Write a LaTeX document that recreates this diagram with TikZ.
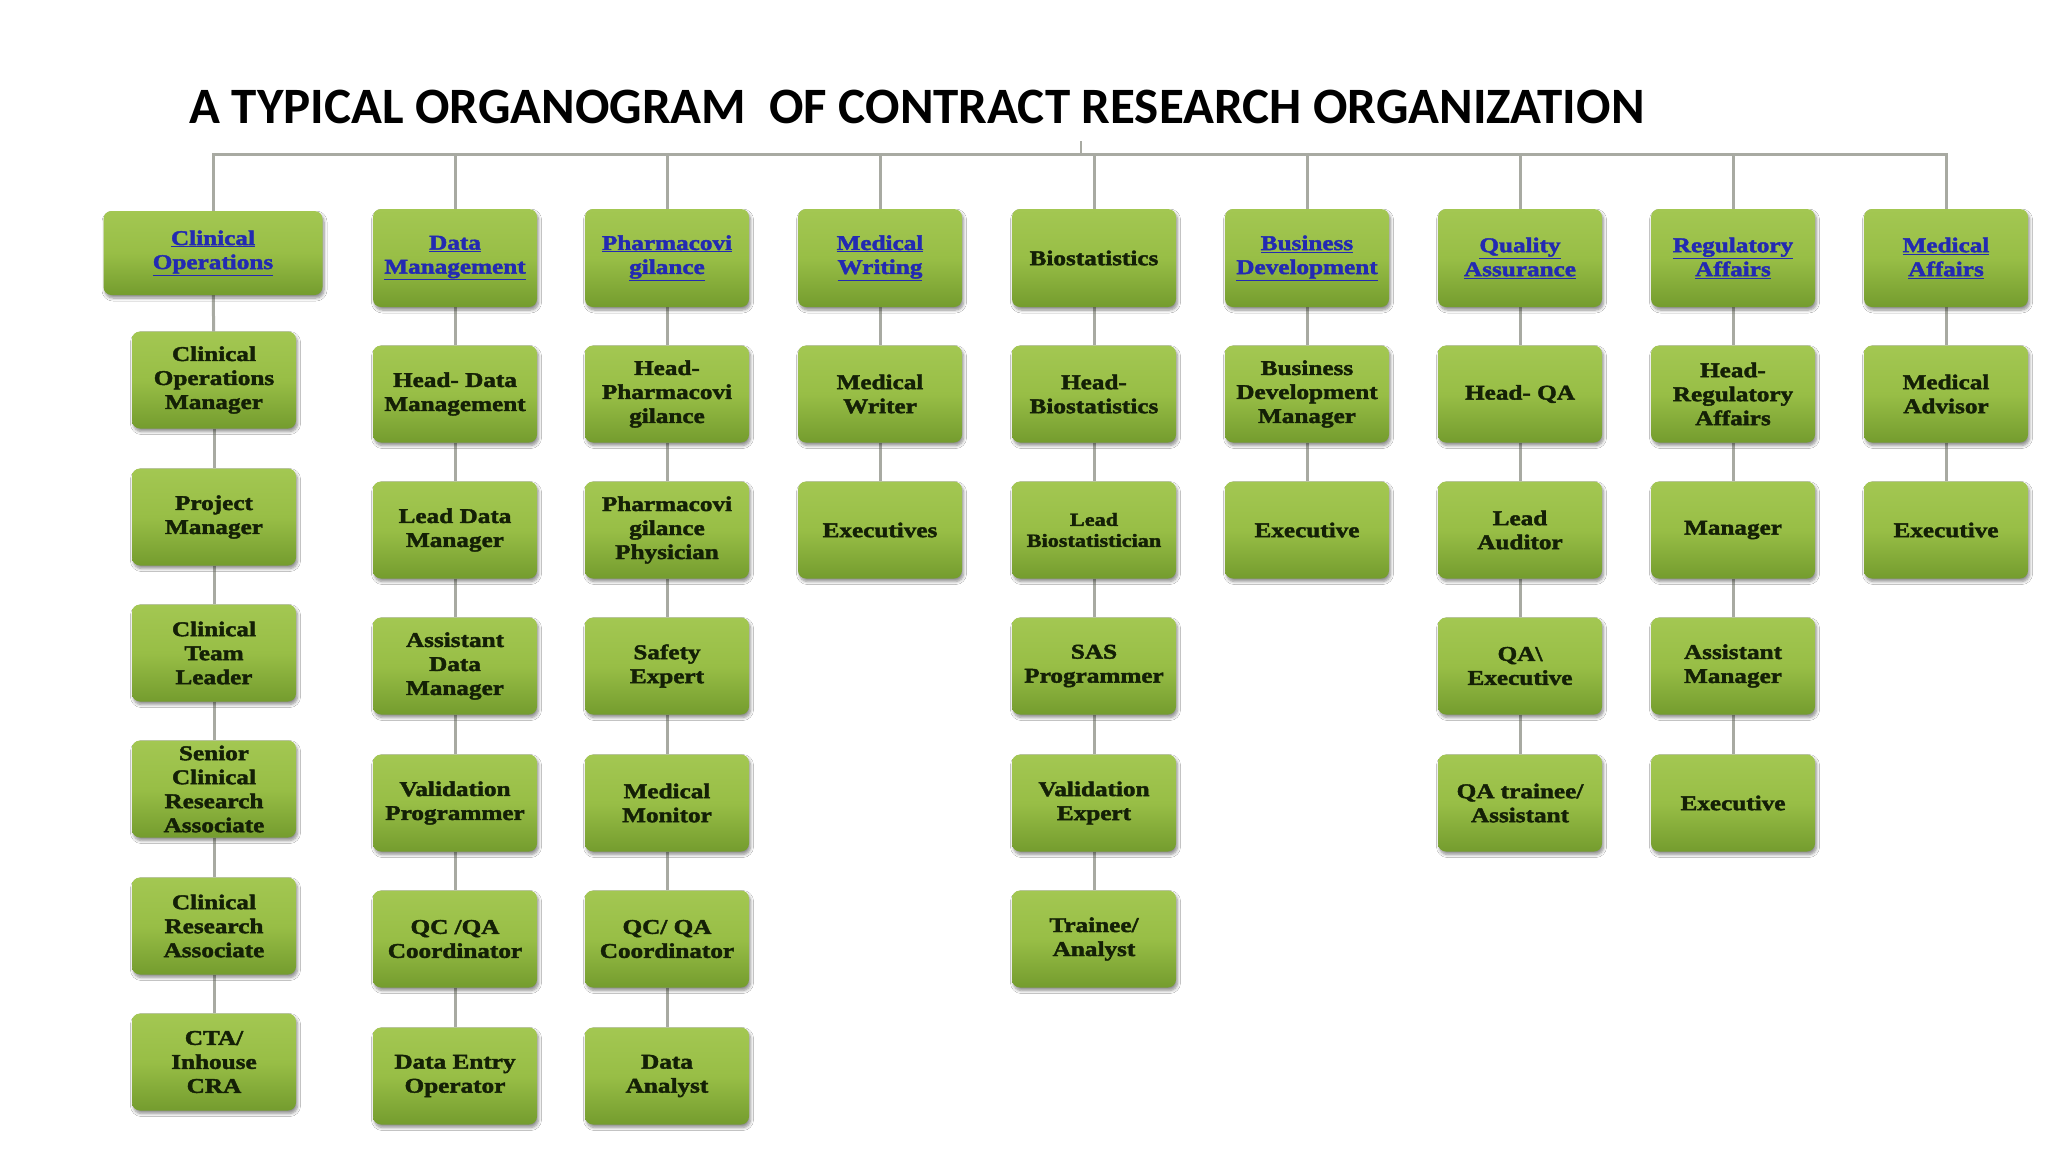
\documentclass[tikz,border=0pt]{standalone}
\usepackage{fontspec}
\usetikzlibrary{shadows.blur,backgrounds}
\newfontfamily\titlefont{Carlito}
\newfontfamily\boxfont{Liberation Serif}[FakeStretch=1.2, BoldFeatures={FakeBold=2}]
\definecolor{boxtop}{RGB}{163,199,82}
\definecolor{boxmid}{RGB}{152,190,70}
\definecolor{boxbot}{RGB}{116,156,46}
\definecolor{boxtext}{RGB}{20,32,6}
\definecolor{linkblue}{RGB}{35,42,178}
\definecolor{conncol}{RGB}{168,170,162}
\newcommand\lnk[1]{\underline{#1}}
\tikzset{
  orgbox/.style={rounded corners=8pt, top color=boxtop, bottom color=boxbot, middle color=boxmid,
    minimum width=164pt, minimum height=97pt, inner sep=2pt, align=center, text=boxtext,
    font=\boxfont\bfseries\fontsize{21}{24}\selectfont,
    blur shadow={shadow xshift=1.5pt, shadow yshift=-3pt, shadow blur radius=3pt, shadow blur steps=6, shadow opacity=45}},
  headbox/.style={orgbox, minimum height=98pt},
  link/.style={text=linkblue},
  conn/.style={draw=conncol, line width=3pt},
}
\begin{document}
\begin{tikzpicture}[x=1pt,y=-1pt]
\useasboundingbox (0,0) rectangle (2048,1152);
\node[anchor=base west, font=\titlefont\bfseries\fontsize{51}{60}\selectfont] (title) at (186,123) {A TYPICAL ORGANOGRAM\ \ OF CONTRACT RESEARCH ORGANIZATION};
% column 1
\node[headbox, link, minimum width=219pt, minimum height=84pt] (c1r0) at (213,253) {\lnk{Clinical}\\\lnk{Operations}};
\node[orgbox] (c1r1) at (214,380) {Clinical\\Operations\\Manager};
\node[orgbox] (c1r2) at (214,517) {Project\\Manager};
\node[orgbox] (c1r3) at (214,653) {Clinical\\Team\\Leader};
\node[orgbox] (c1r4) at (214,789) {Senior\\Clinical\\Research\\Associate};
\node[orgbox] (c1r5) at (214,926) {Clinical\\Research\\Associate};
\node[orgbox] (c1r6) at (214,1062) {CTA/\\Inhouse\\CRA};
% column 2
\node[headbox, link] (c2r0) at (455,258) {\lnk{Data}\\\lnk{Management}};
\node[orgbox] (c2r1) at (455,394) {Head- Data\\Management};
\node[orgbox] (c2r2) at (455,530) {Lead Data\\Manager};
\node[orgbox] (c2r3) at (455,666) {Assistant\\Data\\Manager};
\node[orgbox] (c2r4) at (455,803) {Validation\\Programmer};
\node[orgbox] (c2r5) at (455,939) {QC /QA\\Coordinator};
\node[orgbox] (c2r6) at (455,1076) {Data Entry\\Operator};
% column 3
\node[headbox, link] (c3r0) at (667,258) {\lnk{Pharmacovi}\\\lnk{gilance}};
\node[orgbox] (c3r1) at (667,394) {Head-\\Pharmacovi\\gilance};
\node[orgbox] (c3r2) at (667,530) {Pharmacovi\\gilance\\Physician};
\node[orgbox] (c3r3) at (667,666) {Safety\\Expert};
\node[orgbox] (c3r4) at (667,803) {Medical\\Monitor};
\node[orgbox] (c3r5) at (667,939) {QC/ QA\\Coordinator};
\node[orgbox] (c3r6) at (667,1076) {Data\\Analyst};
% column 4
\node[headbox, link] (c4r0) at (880,258) {\lnk{Medical}\\\lnk{Writing}};
\node[orgbox] (c4r1) at (880,394) {Medical\\Writer};
\node[orgbox] (c4r2) at (880,530) {Executives};
% column 5
\node[headbox] (c5r0) at (1094,258) {Biostatistics};
\node[orgbox] (c5r1) at (1094,394) {Head-\\Biostatistics};
\node[orgbox, font=\boxfont\bfseries\fontsize{18.5}{21}\selectfont] (c5r2) at (1094,530) {Lead\\Biostatistician};
\node[orgbox] (c5r3) at (1094,666) {SAS\\Programmer};
\node[orgbox] (c5r4) at (1094,803) {Validation\\Expert};
\node[orgbox] (c5r5) at (1094,939) {Trainee/\\Analyst};
% column 6
\node[headbox, link] (c6r0) at (1307,258) {\lnk{Business}\\\lnk{Development}};
\node[orgbox] (c6r1) at (1307,394) {Business\\Development\\Manager};
\node[orgbox] (c6r2) at (1307,530) {Executive};
% column 7
\node[headbox, link] (c7r0) at (1520,258) {\lnk{Quality}\\\lnk{Assurance}};
\node[orgbox] (c7r1) at (1520,394) {Head- QA};
\node[orgbox] (c7r2) at (1520,530) {Lead\\Auditor};
\node[orgbox] (c7r3) at (1520,666) {QA\textbackslash\\Executive};
\node[orgbox] (c7r4) at (1520,803) {QA trainee/\\Assistant};
% column 8
\node[headbox, link] (c8r0) at (1733,258) {\lnk{Regulatory}\\\lnk{Affairs}};
\node[orgbox] (c8r1) at (1733,394) {Head-\\Regulatory\\Affairs};
\node[orgbox] (c8r2) at (1733,530) {Manager};
\node[orgbox] (c8r3) at (1733,666) {Assistant\\Manager};
\node[orgbox] (c8r4) at (1733,803) {Executive};
% column 9
\node[headbox, link] (c9r0) at (1946,258) {\lnk{Medical}\\\lnk{Affairs}};
\node[orgbox] (c9r1) at (1946,394) {Medical\\Advisor};
\node[orgbox] (c9r2) at (1946,530) {Executive};
% connectors
\coordinate (bar) at (1081,154);
\coordinate (tick) at (1081,141);
\begin{scope}[on background layer]
\fill[white] (0,0) rectangle (2048,1152);
\draw[conn] (c1r0.north) -- (c1r0.north |- bar) -- (c9r0.north |- bar) -- (c9r0.north);
\draw[conn, line width=2pt] (tick) -- (bar);
\foreach \c in {2,...,8} {\draw[conn] (c\c r0.north) -- (c\c r0.north |- bar);}
\foreach \a/\b in {c1r0/c1r1,c1r1/c1r2,c1r2/c1r3,c1r3/c1r4,c1r4/c1r5,c1r5/c1r6,
  c2r0/c2r1,c2r1/c2r2,c2r2/c2r3,c2r3/c2r4,c2r4/c2r5,c2r5/c2r6,
  c3r0/c3r1,c3r1/c3r2,c3r2/c3r3,c3r3/c3r4,c3r4/c3r5,c3r5/c3r6,
  c4r0/c4r1,c4r1/c4r2,
  c5r0/c5r1,c5r1/c5r2,c5r2/c5r3,c5r3/c5r4,c5r4/c5r5,
  c6r0/c6r1,c6r1/c6r2,
  c7r0/c7r1,c7r1/c7r2,c7r2/c7r3,c7r3/c7r4,
  c8r0/c8r1,c8r1/c8r2,c8r2/c8r3,c8r3/c8r4,
  c9r0/c9r1,c9r1/c9r2} {\draw[conn] (\a) -- (\b);}
\end{scope}
\end{tikzpicture}
\end{document}
